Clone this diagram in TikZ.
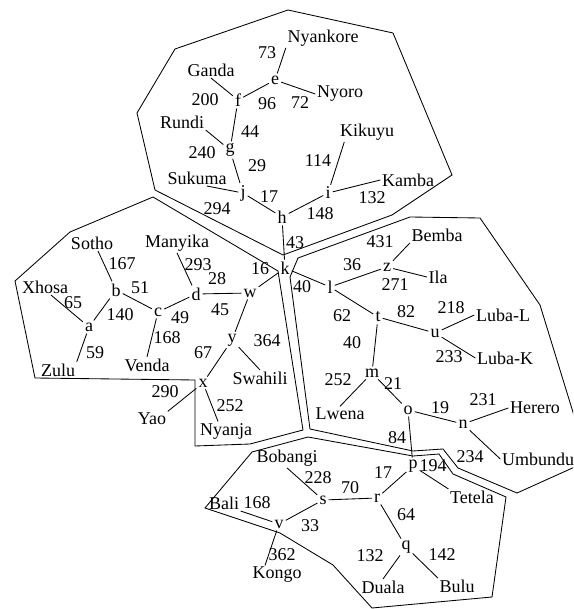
\documentclass[tikz,border=0pt]{standalone}
\usepackage{fontspec}
\setmainfont{Liberation Serif}
\begin{document}
\begin{tikzpicture}[x=1pt,y=-1pt,font=\fontsize{18}{21}\selectfont,
    vert/.style={inner sep=2pt},
    lang/.style={inner sep=1.5pt},
    wt/.style={inner sep=0pt},
    link/.style={line width=0.85pt},
    region/.style={line width=0.85pt,line join=miter}]
    \useasboundingbox (0,0) rectangle (573,609);
    \clip (0,0) rectangle (573,609);
    % regions
    \draw [region] (175,49) -- (288,10) -- (393,33) -- (452,175) -- (392,215) -- (283,255) -- (155,190) -- (137,113) -- cycle;
    \draw [region] (153,197) -- (278,271) -- (303,430) -- (250,444) -- (195,446) -- (195,380) -- (35,378) -- (15,281) -- (70,232) -- cycle;
    \draw [region] (298,258) -- (410,217) -- (480,218) -- (540,305) -- (588,461) -- (517,493) -- (458,468) -- (443,449) -- (413,451) -- (310,429) -- (290,277) -- cycle;
    \draw [region] (252,452) -- (308,437) -- (413,456) -- (439,454) -- (453,474) -- (506,497) -- (492,597) -- (372,608) -- (333,565) -- (280,533) -- (205,508) -- cycle;
    % inner vertices
    \node[vert] (e) at (275,80) {e};\node[vert] (f) at (238,100) {f};\node[vert] (g) at (230,150) {g};
    \node[vert] (j) at (243,193) {j};\node[vert] (h) at (282,217) {h};\node[vert] (i) at (328,193) {i};
    \node[vert] (k) at (285,268) {k};
    \node[vert] (a) at (89,327) {a};\node[vert] (b) at (116,290) {b};\node[vert] (c) at (158,312) {c};
    \node[vert] (d) at (196,294) {d};\node[vert] (w) at (250,293) {w};\node[vert] (y) at (232,340) {y};
    \node[vert] (x) at (203,383) {x};
    \node[vert] (l) at (330,287) {l};\node[vert] (z) at (387,267) {z};\node[vert] (t) at (378,317) {t};
    \node[vert] (u) at (435,333) {u};\node[vert] (m) at (372,373) {m};\node[vert] (o) at (408,410) {o};
    \node[vert] (n) at (463,424) {n};\node[vert] (p) at (413,466) {p};
    \node[vert] (s) at (323,500) {s};\node[vert] (r) at (377,498) {r};\node[vert] (v) at (279,524) {v};
    \node[vert] (q) at (406,547) {q};
    % languages
    \node[lang] (nyankore) at (323,38) {Nyankore};\node[lang] (ganda) at (211,70) {Ganda};
    \node[lang] (nyoro) at (340,94) {Nyoro};\node[lang] (rundi) at (182,122) {Rundi};
    \node[lang] (kikuyu) at (367,132) {Kikuyu};\node[lang] (kamba) at (408,180) {Kamba};
    \node[lang] (sukuma) at (197,178) {Sukuma};
    \node[lang] (sotho) at (92,243) {Sotho};\node[lang] (xhosa) at (45,287) {Xhosa};
    \node[lang] (zulu) at (58,370) {Zulu};\node[lang] (venda) at (147,365) {Venda};
    \node[lang] (manyika) at (177,243) {Manyika};\node[lang] (swahili) at (260,378) {Swahili};
    \node[lang] (yao) at (152,419) {Yao};\node[lang] (nyanja) at (226,431) {Nyanja};
    \node[lang] (bemba) at (437,235) {Bemba};\node[lang] (ila) at (438,277) {Ila};
    \node[lang] (lubal) at (503,315) {Luba-L};\node[lang] (lubak) at (505,358) {Luba-K};
    \node[lang] (lwena) at (340,414) {Lwena};\node[lang] (herero) at (535,408) {Herero};
    \node[lang] (umbundu) at (538,459) {Umbundu};\node[lang] (tetela) at (472,497) {Tetela};
    \node[lang] (bobangi) at (287,458) {Bobangi};\node[lang] (bali) at (224,503) {Bali};
    \node[lang] (kongo) at (277,575) {Kongo};\node[lang] (duala) at (383,587) {Duala};
    \node[lang] (bulu) at (457,586) {Bulu};
    % weights
    \foreach \px/\py/\t [count=\k] in {267/53/73, 205/100/200, 267/104/96, 300/103/72, 250/132/44,
        202/153/240, 257/166/29, 318/161/114, 372/198/132, 269/197/17, 217/209/294, 320/214/148,
        122/264/167, 140/288/51, 73/303/65, 120/315/140, 180/318/49, 167/338/168, 95/353/59,
        198/265/293, 217/279/28, 220/310/45, 260/269/16, 267/341/364, 203/353/67, 165/392/290,
        230/406/252, 295/243/43, 302/287/40,
        380/242/431, 352/265/36, 395/285/271, 342/316/62, 406/312/82, 451/308/218, 449/357/233,
        352/343/40, 338/380/252, 393/384/21, 440/408/19, 483/400/231, 470/457/234, 397/438/84,
        433/466/194,
        318/478/228, 350/488/70, 383/473/17, 257/503/168, 310/526/33, 406/515/64, 282/555/362,
        370/556/132, 442/555/142}
        \node[wt] (wt\k) at (\px,\py) {\t};
    % tree
    \draw [link] (e) -- (nyankore.south west);\draw [link] (e) -- (f);\draw [link] (e) -- (nyoro.west);
    \draw [link] (f) -- (ganda.south);\draw [link] (f) -- (g);\draw [link] (g) -- (rundi.south east);
    \draw [link] (g) -- (j);\draw [link] (j) -- ([xshift=10pt]sukuma.south);\draw [link] (j) -- (h);
    \draw [link] (h) -- (i);\draw [link] (i) -- ([xshift=6pt]kikuyu.south west);\draw [link] (i) -- (kamba.west);
    \draw [link] (h) -- (k);\draw [link] (k) -- (w);\draw [link] (k) -- (l);
    \draw [link] (b) -- ([xshift=6pt]sotho.south);\draw [link] (b) -- (a);\draw [link] (b) -- (c);
    \draw [link] (a) -- ([xshift=6pt]xhosa.south);\draw [link] (a) -- (zulu.north east);
    \draw [link] (c) -- (venda.north);\draw [link] (c) -- (d);\draw [link] (d) -- (manyika.south);
    \draw [link] (d) -- (w);\draw [link] (w) -- (y);\draw [link] (y) -- (swahili.north);\draw [link] (y) -- (x);
    \draw [link] (x) -- (yao.north east);\draw [link] (x) -- ([xshift=-8pt]nyanja.north);
    \draw [link] (l) -- (z);\draw [link] (z) -- (bemba.south west);\draw [link] (z) -- (ila.west);
    \draw [link] (l) -- (t);\draw [link] (t) -- (u);\draw [link] (u) -- (lubal.west);\draw [link] (u) -- (lubak.west);
    \draw [link] (t) -- (m);\draw [link] (m) -- (lwena.north);\draw [link] (m) -- (o);
    \draw [link] (o) -- (n);\draw [link] (n) -- (herero.west);\draw [link] (n) -- (umbundu.west);
    \draw [link] (o) -- (p);\draw [link] (p) -- (tetela.north west);\draw [link] (p) -- (r);
    \draw [link] (r) -- (s);\draw [link] (r) -- (q);\draw [link] (s) -- (bobangi.south);\draw [link] (s) -- (v);
    \draw [link] (v) -- (bali.south east);\draw [link] (v) -- ([xshift=-12pt]kongo.north);
    \draw [link] (q) -- (duala.north);\draw [link] (q) -- (bulu.north west);
\end{tikzpicture}
\end{document}
